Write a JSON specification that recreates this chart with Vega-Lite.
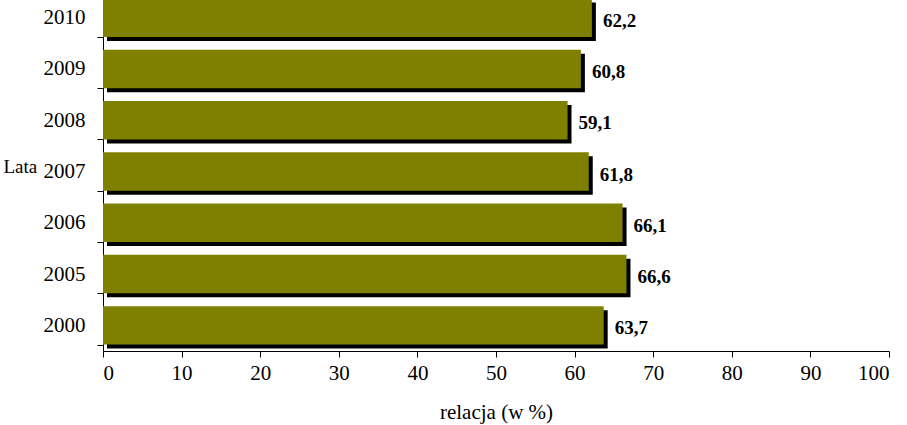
{
  "$schema": "https://vega.github.io/schema/vega-lite/v6.json",
  "autosize": "none",
  "width": 786,
  "height": 359,
  "padding": {"left": 103, "top": -8, "right": 18, "bottom": 74},
  "background": "white",
  "config": {
    "view": {"stroke": null},
    "font": "Liberation Serif",
    "locale": {"number": {"decimal": ",", "thousands": " ", "grouping": [3], "currency": ["", " zł"]}}
  },
  "data": {"values": [
    {"rok": "2010", "wartosc": 62.2},
    {"rok": "2009", "wartosc": 60.8},
    {"rok": "2008", "wartosc": 59.1},
    {"rok": "2007", "wartosc": 61.8},
    {"rok": "2006", "wartosc": 66.1},
    {"rok": "2005", "wartosc": 66.6},
    {"rok": "2000", "wartosc": 63.7}
  ]},
  "encoding": {
    "y": {
      "field": "rok", "type": "nominal", "sort": null,
      "scale": {"paddingInner": 0.25, "paddingOuter": 0.125},
      "axis": {
        "title": "Lata", "titleAngle": 0, "titleAlign": "left", "titleBaseline": "alphabetic",
        "titleX": -100, "titleY": 180, "titleFont": "Liberation Serif", "titleFontSize": 19, "titleFontWeight": "normal", "titleColor": "black",
        "labelFont": "Liberation Serif", "labelFontSize": 21, "labelColor": "black", "labelPadding": 12,
        "tickBand": "extent", "tickSize": 6, "tickColor": "black", "domainColor": "black", "grid": false
      }
    }
  },
  "layer": [
    {
      "mark": {"type": "bar", "color": "black", "xOffset": 4, "x2Offset": 4, "yOffset": 4, "y2Offset": 4},
      "encoding": {"x": {"field": "wartosc", "type": "quantitative"}}
    },
    {
      "mark": {"type": "bar", "color": "#808000"},
      "encoding": {
        "x": {
          "field": "wartosc", "type": "quantitative",
          "scale": {"domain": [0, 100], "nice": false},
          "axis": {
            "title": "relacja (w %)", "titleFont": "Liberation Serif", "titleFontSize": 21, "titleFontWeight": "normal", "titleColor": "black", "titlePadding": 18,
            "values": [0, 10, 20, 30, 40, 50, 60, 70, 80, 90, 100],
            "labelFont": "Liberation Serif", "labelFontSize": 21, "labelColor": "black", "labelPadding": 5,
            "tickSize": 6, "tickColor": "black", "domainColor": "black", "grid": false
          }
        }
      }
    },
    {
      "mark": {"type": "text", "align": "left", "baseline": "middle", "dx": 11, "dy": 3, "fontWeight": "bold", "fontSize": 19, "font": "Liberation Serif", "color": "black"},
      "encoding": {
        "x": {"field": "wartosc", "type": "quantitative"},
        "text": {"field": "wartosc", "type": "quantitative", "format": ".1f"}
      }
    }
  ]
}
